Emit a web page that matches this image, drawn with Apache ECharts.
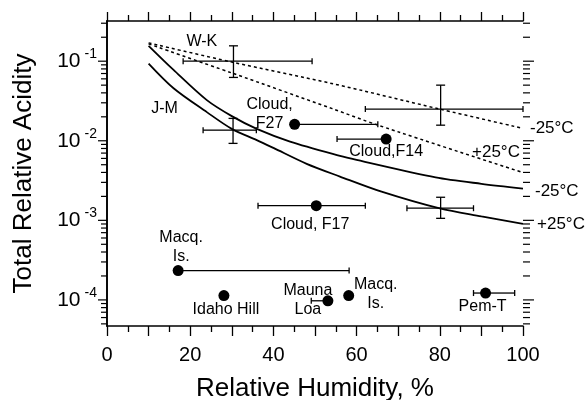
<!DOCTYPE html>
<html><head><meta charset="utf-8">
<script src="https://cdn.jsdelivr.net/npm/echarts@6/dist/echarts.min.js"></script>
<style>html,body{margin:0;padding:0;background:#fff}#c{width:585px;height:400px}</style>
</head><body><div id="c"></div>
<script>
const FONT = '"Liberation Sans", Arial, Helvetica, sans-serif';

// ---- axis ranges / ticks ----
const X_MIN = 0, X_MAX = 100;
const Y_MIN = 4.7e-5, Y_MAX = 0.32;
const yMajorTicks = [1e-4, 1e-3, 1e-2, 1e-1];
const yMinorTicks = [5e-5, 6e-5, 7e-5, 8e-5, 9e-5,
  2e-4, 3e-4, 4e-4, 5e-4, 6e-4, 7e-4, 8e-4, 9e-4,
  2e-3, 3e-3, 4e-3, 5e-3, 6e-3, 7e-3, 8e-3, 9e-3,
  2e-2, 3e-2, 4e-2, 5e-2, 6e-2, 7e-2, 8e-2, 9e-2,
  0.2, 0.3];

// ---- model curves ----
const wkColdRH = [10, 30, 54, 80, 100];
const wkColdAcid = [0.170, 0.0975, 0.0525, 0.0250, 0.0143];
const wkWarmRH = [10, 30, 54, 65, 100];
const wkWarmAcid = [0.165, 0.0711, 0.0255, 0.0158, 0.00398];
const jmColdRH = [10, 16, 24, 30, 36, 44, 56, 60, 79, 90, 100];
const jmColdAcid = [0.156, 0.0776, 0.0324, 0.0204, 0.0141, 0.00977, 0.00646, 0.00575, 0.00347, 0.00288, 0.00251];
const jmWarmRH = [10, 16, 24, 30, 36, 40, 48, 56, 66, 80, 90, 100];
const jmWarmAcid = [0.0933, 0.0457, 0.0229, 0.0141, 0.0102, 0.00813, 0.00513, 0.00355, 0.00229, 0.00141, 0.00112, 0.000902];

// ---- measured points (dots) ----
const dotNames = ['Cloud,\nF27', 'Cloud,F14', 'Cloud, F17', 'Macq.\nIs.', 'Idaho Hill', 'Mauna\nLoa', 'Macq.\nIs.', 'Pem-T'];
const dotRH = [45.1, 67.1, 50.3, 17.1, 28.1, 53.1, 58.1, 91.0];
const dotAcid = [0.0161, 0.0105, 0.00153, 2.34e-4, 1.135e-4, 9.75e-5, 1.135e-4, 1.22e-4];
const dotRHLow = [null, 55.3, 36.3, null, null, 49.1, null, 88.1];
const dotRHHigh = [65.1, null, 62.1, 58.2, null, null, null, 98.0];

// ---- crosses (error bars without dot) ----
const crossRH = [30.4, 30.3, 80.2, 80.2];
const crossAcid = [0.1, 0.0136, 0.025, 0.00142];
const crossRHLow = [18.3, 23.1, 62.1, 72.1];
const crossRHHigh = [49.3, 35.9, 100, 88.1];
const crossAcidLow = [0.0625, 0.00927, 0.0157, 0.00106];
const crossAcidHigh = [0.156, 0.0191, 0.05, 0.00195];

// ---- label placement (styles) ----
const dotLabelOffsets = [[-25, -10], [0, 13], [-6, 19], [3, -23], [2, 14], [-20, -1], [27, -1], [-3, 14]];

const pairs = (xs, ys) => xs.map((x, i) => [x, ys[i]]);
const ticksData = yMajorTicks.map(v => [X_MIN, v, 1]).concat(yMinorTicks.map(v => [X_MIN, v, 0]));
const errData = dotRH.map((x, i) => [x, dotAcid[i], dotRHLow[i], dotRHHigh[i], null, null])
  .concat(crossRH.map((x, i) => [x, crossAcid[i], crossRHLow[i], crossRHHigh[i], crossAcidLow[i], crossAcidHigh[i]]));

const BLACK = '#000';
const txt = {color: BLACK, fontFamily: FONT, opacity: 1};

const chart = echarts.init(document.getElementById('c'), null, {renderer: 'canvas'});

const lineBase = (name, xs, ys, dashed, endText, endOpts) => ({
  name, type: 'line', data: pairs(xs, ys), showSymbol: false, symbol: 'none', smooth: 0.3,
  lineStyle: {color: BLACK, width: dashed ? 1.5 : 1.8, type: dashed ? [3, 3] : 'solid', opacity: 1},
  endLabel: Object.assign({show: true, formatter: endText, fontSize: 17, color: BLACK, fontFamily: FONT}, endOpts),
  z: 3, silent: true, animation: false
});

const option = {
  animation: false,
  backgroundColor: '#fff',
  grid: {left: 107, right: 62, top: 21, bottom: 74, containLabel: false, outerBoundsMode: 'none'},
  xAxis: [{
    type: 'value', min: X_MIN, max: X_MAX, interval: 10,
    name: 'Relative Humidity, %', nameLocation: 'middle', nameGap: 50,
    nameTextStyle: Object.assign({fontSize: 26}, txt),
    axisLine: {lineStyle: {color: BLACK, width: 1.6}},
    axisTick: {length: 10, lineStyle: {color: BLACK, width: 1.3}},
    minorTick: {show: true, splitNumber: 2, length: 6, lineStyle: {color: BLACK, width: 1.3}},
    axisLabel: Object.assign({fontSize: 20, margin: 19, formatter: v => (v % 20 === 0 ? String(v) : '')}, txt),
    splitLine: {show: false}
  }, {
    type: 'value', min: X_MIN, max: X_MAX, interval: 10, position: 'top',
    axisLine: {lineStyle: {color: BLACK, width: 1.6}},
    axisTick: {length: 9, lineStyle: {color: BLACK, width: 1.3}},
    minorTick: {show: true, splitNumber: 2, length: 6, lineStyle: {color: BLACK, width: 1.3}},
    axisLabel: {show: false}, splitLine: {show: false}
  }],
  yAxis: [{
    type: 'log', min: Y_MIN, max: Y_MAX, logBase: 10,
    name: 'Total Relative Acidity', nameLocation: 'middle', nameGap: 70, nameRotate: 90,
    nameTextStyle: Object.assign({fontSize: 26}, txt),
    axisLine: {show: true, lineStyle: {color: BLACK, width: 1.6}},
    axisTick: {show: false},
    axisLabel: {
      margin: 10, showMinLabel: false, showMaxLabel: false,
      formatter: function (v) {
        const l = Math.log10(v), e = Math.round(l);
        if (Math.abs(l - e) > 1e-6) return '';
        return '{b|10}{s|' + e + '}';
      },
      rich: {
        b: {fontSize: 21, color: BLACK, fontFamily: FONT},
        s: {fontSize: 14, color: BLACK, fontFamily: FONT, padding: [0, 0, 14, 4]}
      }
    },
    splitLine: {show: false}
  }, {
    type: 'log', min: Y_MIN, max: Y_MAX, logBase: 10, position: 'right',
    axisLine: {show: true, lineStyle: {color: BLACK, width: 1.6}},
    axisTick: {show: false}, axisLabel: {show: false}, splitLine: {show: false}
  }],
  series: [
    // y-axis log ticks, both sides
    {
      type: 'custom', xAxisIndex: 0, yAxisIndex: 0, data: ticksData, encode: {x: 0, y: 1},
      silent: true, clip: false, z: 5,
      renderItem: function (params, api) {
        const v = api.value(1), major = api.value(2) === 1;
        const pL = api.coord([X_MIN, v]), pR = api.coord([X_MAX, v]);
        const lL = major ? 9 : 6, lR = major ? 11 : 7;
        const st = {stroke: BLACK, lineWidth: 1.2};
        return {type: 'group', children: [
          {type: 'line', shape: {x1: pL[0] - lL, y1: pL[1], x2: pL[0], y2: pL[1]}, style: st},
          {type: 'line', shape: {x1: pR[0], y1: pR[1], x2: pR[0] + lR, y2: pR[1]}, style: st}
        ]};
      }
    },
    lineBase('W-K -25', wkColdRH, wkColdAcid, true, '-25°C', {distance: 7}),
    lineBase('W-K +25', wkWarmRH, wkWarmAcid, true, '+25°C', {distance: 5, offset: [-56, -20]}),
    lineBase('J-M -25', jmColdRH, jmColdAcid, false, '-25°C', {distance: 12, offset: [0, 3]}),
    lineBase('J-M +25', jmWarmRH, jmWarmAcid, false, '+25°C', {distance: 14}),
    // curve names
    {
      type: 'scatter', symbolSize: 1, itemStyle: {color: 'rgba(0,0,0,0)'}, silent: true, z: 6,
      data: [
        {value: [wkColdRH[1], wkColdAcid[1]], label: {show: true, formatter: 'W-K', offset: [-30, -20]}},
        {value: [jmWarmRH[1], jmWarmAcid[1]], label: {show: true, formatter: 'J-M', offset: [-9, 20]}}
      ],
      label: Object.assign({position: 'inside', fontSize: 16}, txt)
    },
    // error bars
    {
      type: 'custom', data: errData, encode: {x: 0, y: 1}, silent: true, clip: false, z: 4,
      renderItem: function (params, api) {
        const x = api.value(0), y = api.value(1);
        const xl = api.value(2), xh = api.value(3), yl = api.value(4), yh = api.value(5);
        const c = api.coord([x, y]);
        const st = {stroke: BLACK, lineWidth: 1.3};
        const ch = [];
        const hc = 3, vc = 4.5;
        if (isFinite(xl) && xl !== null) {
          const p = api.coord([xl, y]);
          ch.push({type: 'line', shape: {x1: p[0], y1: c[1], x2: c[0], y2: c[1]}, style: st});
          ch.push({type: 'line', shape: {x1: p[0], y1: c[1] - hc, x2: p[0], y2: c[1] + hc}, style: st});
        }
        if (isFinite(xh) && xh !== null) {
          const p = api.coord([xh, y]);
          ch.push({type: 'line', shape: {x1: c[0], y1: c[1], x2: p[0], y2: c[1]}, style: st});
          ch.push({type: 'line', shape: {x1: p[0], y1: c[1] - hc, x2: p[0], y2: c[1] + hc}, style: st});
        }
        if (isFinite(yl) && yl !== null && yl > 0) {
          const p = api.coord([x, yl]);
          ch.push({type: 'line', shape: {x1: c[0], y1: c[1], x2: c[0], y2: p[1]}, style: st});
          ch.push({type: 'line', shape: {x1: c[0] - vc, y1: p[1], x2: c[0] + vc, y2: p[1]}, style: st});
        }
        if (isFinite(yh) && yh !== null && yh > 0) {
          const p = api.coord([x, yh]);
          ch.push({type: 'line', shape: {x1: c[0], y1: c[1], x2: c[0], y2: p[1]}, style: st});
          ch.push({type: 'line', shape: {x1: c[0] - vc, y1: p[1], x2: c[0] + vc, y2: p[1]}, style: st});
        }
        return {type: 'group', children: ch};
      }
    },
    // dots
    {
      type: 'scatter', symbol: 'circle', symbolSize: 11, itemStyle: {color: BLACK, opacity: 1}, silent: true, z: 7,
      data: dotRH.map((x, i) => ({
        value: [x, dotAcid[i]],
        label: {show: true, formatter: dotNames[i], offset: dotLabelOffsets[i]}
      })),
      label: Object.assign({position: 'inside', fontSize: 16, lineHeight: 19, align: 'center'}, txt)
    }
  ]
};
chart.setOption(option);
</script>
</body></html>
